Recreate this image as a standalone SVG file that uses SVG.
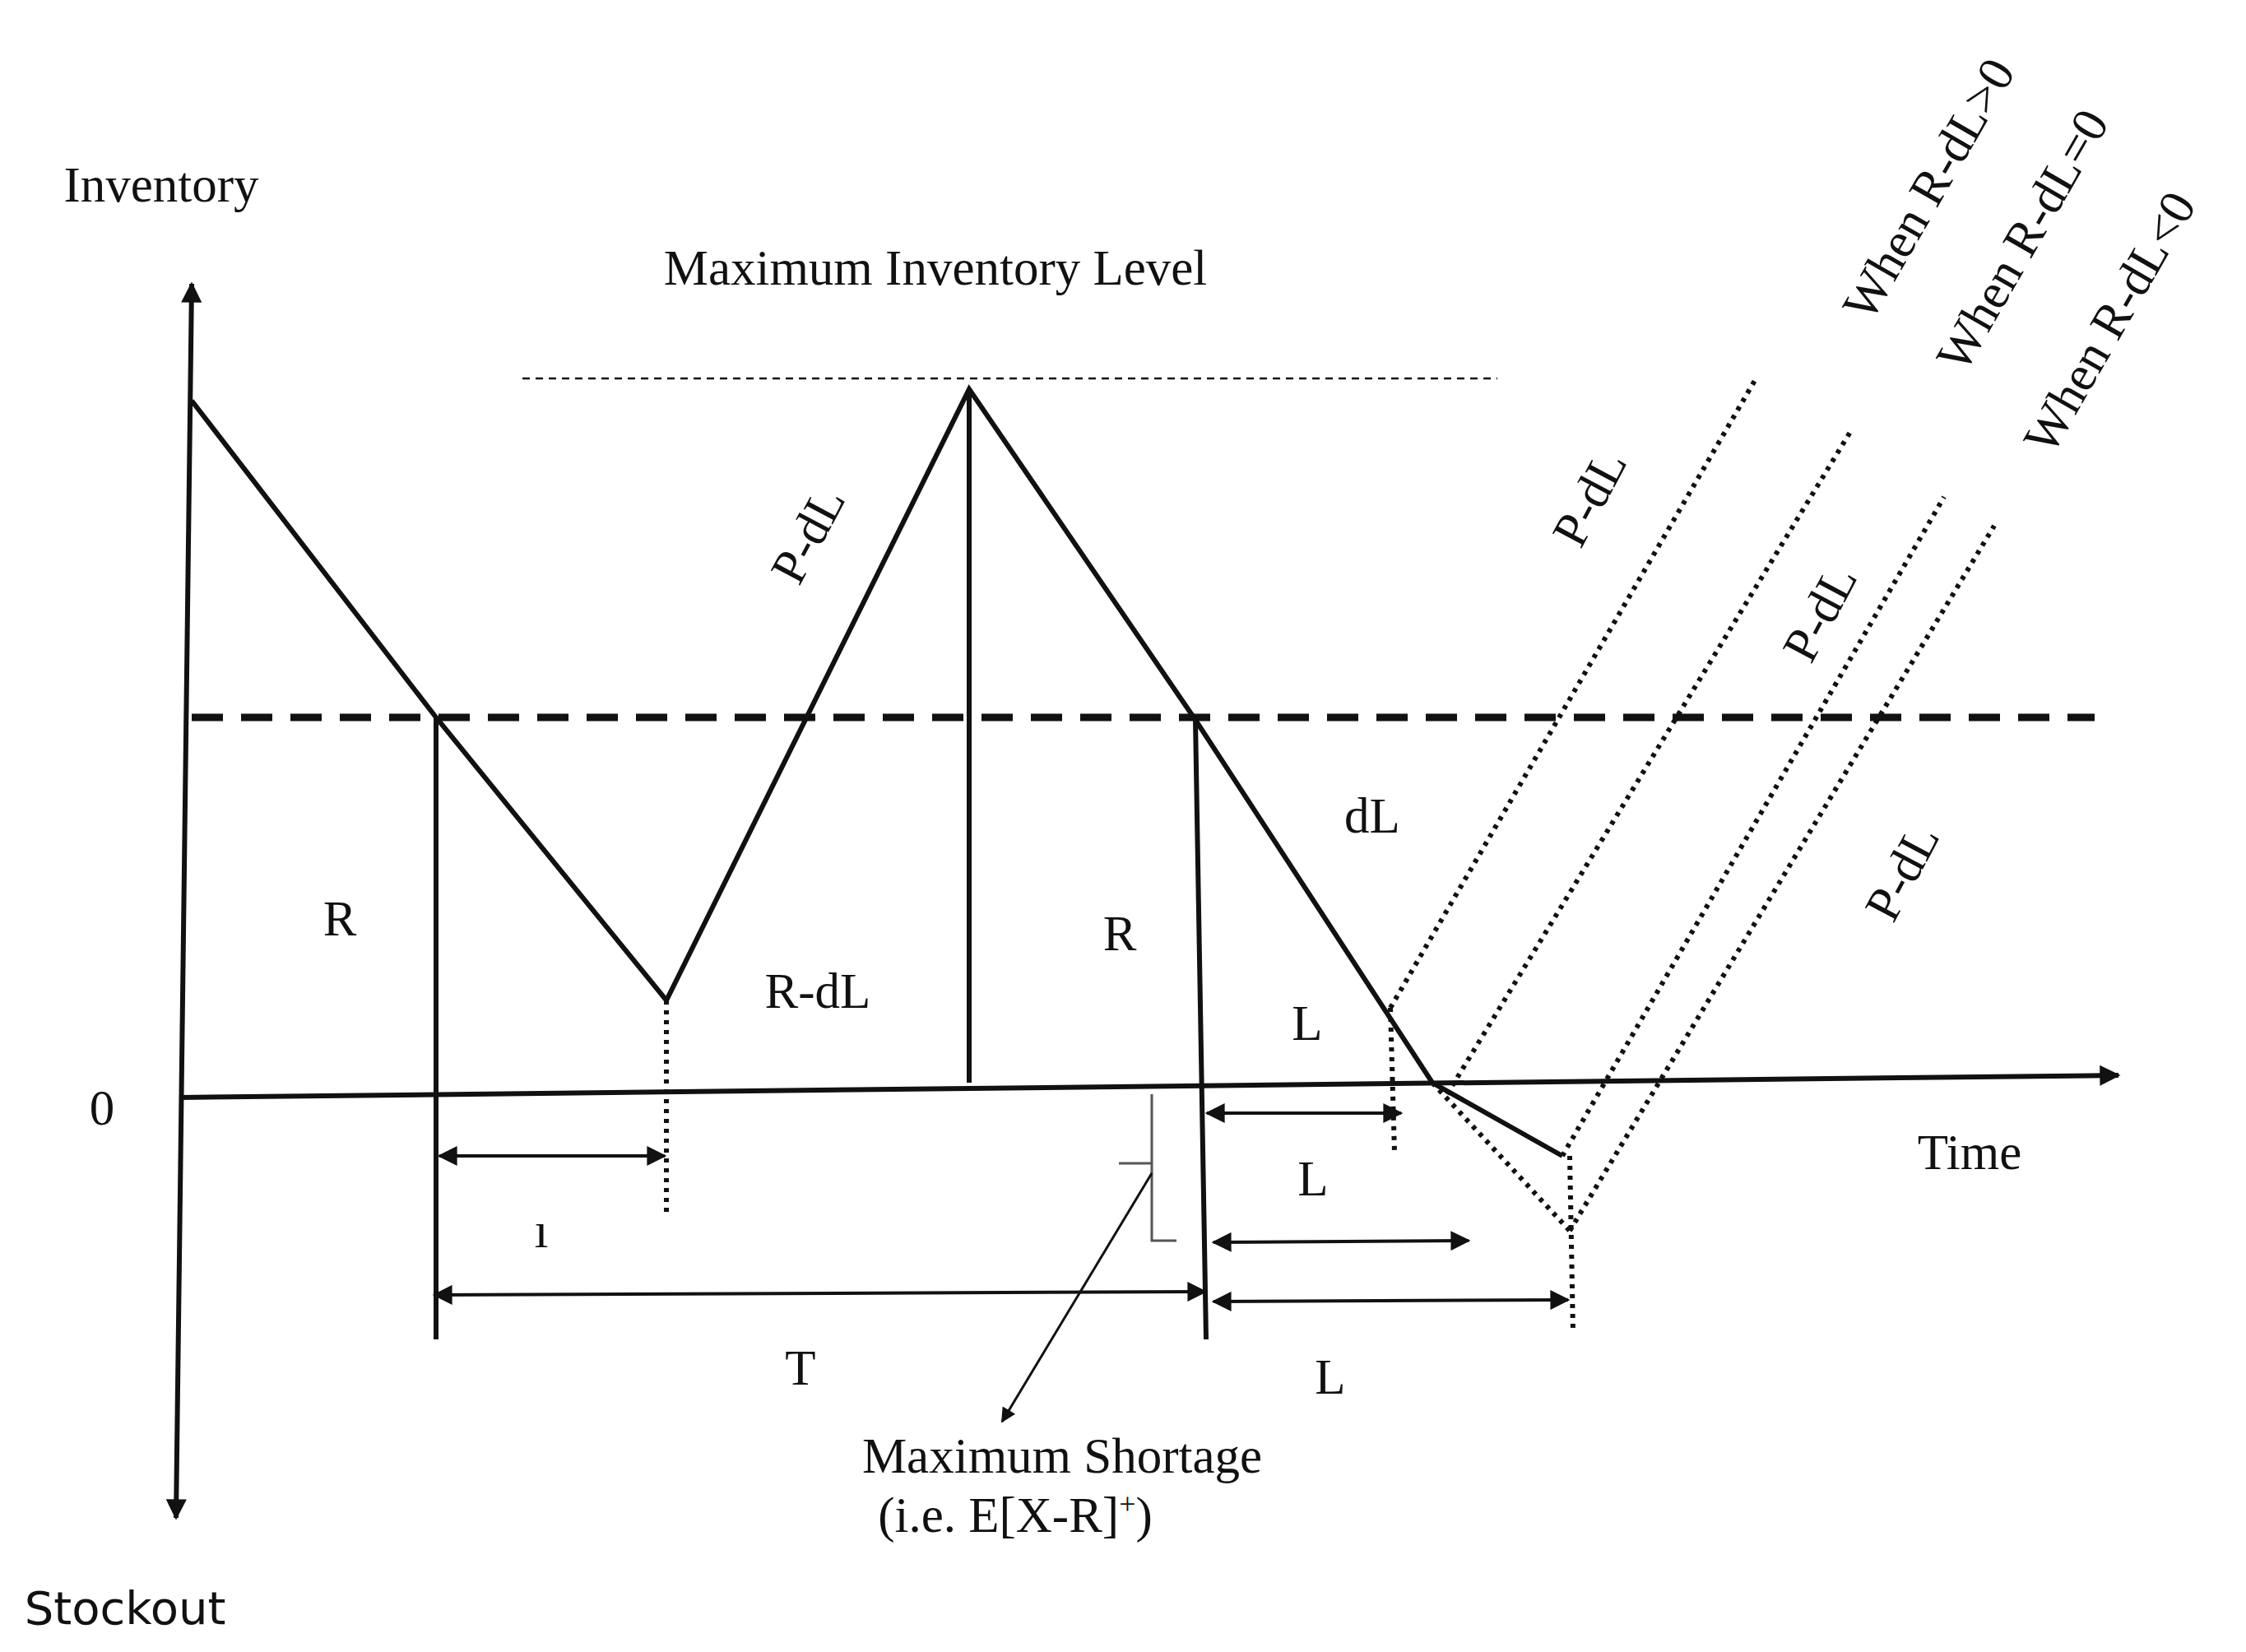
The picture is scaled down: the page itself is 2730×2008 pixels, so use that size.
<svg xmlns="http://www.w3.org/2000/svg" width="2730" height="2008" viewBox="0 0 2730 2008">
<style>
.t{font-family:"Liberation Serif",serif;font-size:61px;fill:#111;text-anchor:middle}
.s{stroke:#111;stroke-width:6;fill:none}
.th{stroke:#111;stroke-width:4;fill:none}
.d{stroke:#111;stroke-width:6;fill:none;stroke-dasharray:5 7}
</style>
<defs>
<marker id="a" viewBox="0 0 10 10" refX="9" refY="5" markerWidth="7" markerHeight="6" orient="auto-start-reverse"><path d="M0,0L10,5L0,10z" fill="#111"/></marker>
<marker id="b" viewBox="0 0 10 10" refX="9" refY="5" markerWidth="4.8" markerHeight="4.2" orient="auto-start-reverse"><path d="M0,0L10,5L0,10z" fill="#111"/></marker>
</defs>
<rect width="2730" height="2008" fill="#fff"/>
<g id="connectors">
<line class="s" x1="233" y1="345" x2="214" y2="1845" stroke-width="9" marker-start="url(#b)" marker-end="url(#b)"/>
<line class="s" x1="219" y1="1334" x2="2575" y2="1307" stroke-width="8" marker-end="url(#b)"/>
<line x1="233" y1="872" x2="2546" y2="872" stroke="#111" stroke-width="9" stroke-dasharray="38 22"/>
<line x1="635" y1="460" x2="1820" y2="460" stroke="#111" stroke-width="2.5" stroke-dasharray="9 7"/>
<polyline class="s" points="233,487 530,872 810,1216 1178,473 1453,875 1741,1316 1899,1405"/>
<line class="s" x1="530" y1="872" x2="530" y2="1628"/>
<line class="s" x1="1178" y1="473" x2="1178" y2="1316"/>
<line class="s" x1="1453" y1="875" x2="1466" y2="1628"/>
<line class="d" x1="810" y1="1216" x2="810" y2="1479"/>
<line class="d" x1="1690" y1="1225" x2="1695" y2="1400"/>
<line class="d" x1="1908" y1="1405" x2="1912" y2="1619"/>
<line class="d" x1="1690" y1="1225" x2="2135" y2="459"/>
<line class="d" x1="1759" y1="1330" x2="2249" y2="525"/>
<line class="d" x1="1741" y1="1316" x2="1908" y2="1496"/>
<line class="d" x1="1899" y1="1405" x2="2363" y2="604"/>
<line class="d" x1="1908" y1="1496" x2="2424" y2="639"/>
<line class="th" x1="534" y1="1405" x2="808" y2="1405" marker-start="url(#a)" marker-end="url(#a)"/>
<line class="th" x1="528" y1="1574" x2="1465" y2="1570" marker-start="url(#a)" marker-end="url(#a)"/>
<line class="th" x1="1467" y1="1353" x2="1703" y2="1353" marker-start="url(#a)" marker-end="url(#a)"/>
<line class="th" x1="1475" y1="1510" x2="1785" y2="1508" marker-start="url(#a)" marker-end="url(#a)"/>
<line class="th" x1="1475" y1="1582" x2="1906" y2="1580" marker-start="url(#a)" marker-end="url(#a)"/>
<polyline stroke="#555" stroke-width="3" fill="none" points="1400,1330 1400,1508 1430,1508"/>
<line stroke="#555" stroke-width="3" x1="1360" y1="1414" x2="1400" y2="1414"/>
<line stroke="#111" stroke-width="3" x1="1400" y1="1426" x2="1218" y2="1728" marker-end="url(#a)"/>
</g>
<g id="labels">
<text class="t" x="196" y="245">Inventory</text>
<text class="t" x="1137" y="346">Maximum Inventory Level</text>
<text class="t" x="413" y="1137">R</text>
<text class="t" x="994" y="1225">R-dL</text>
<text class="t" x="1361" y="1155">R</text>
<text class="t" x="1668" y="1012">dL</text>
<text class="t" x="1589" y="1264">L</text>
<text class="t" x="1596" y="1453">L</text>
<text class="t" x="1617" y="1694">L</text>
<text class="t" x="973" y="1683">T</text>
<text class="t" x="658" y="1516" font-size="44">ı</text>
<text class="t" x="124" y="1367">0</text>
<text class="t" x="2394" y="1421">Time</text>
<text x="152" y="1974" style="font-family:'DejaVu Sans',sans-serif;font-size:56px;fill:#111;text-anchor:middle">Stockout</text>
<text class="t" x="1291" y="1790">Maximum Shortage</text>
<text class="t" x="1234" y="1862">(i.e. E[X-R]<tspan font-size="36" dy="-22">+</tspan><tspan dy="22">)</tspan></text>
<text class="t" transform="translate(1000,660) rotate(-62)">P-dL</text>
<text class="t" transform="translate(1950,615) rotate(-62)">P-dL</text>
<text class="t" transform="translate(2230,755) rotate(-62)">P-dL</text>
<text class="t" transform="translate(2330,1070) rotate(-62)">P-dL</text>
<text class="t" transform="translate(2362,240) rotate(-60)">When R-dL&gt;0</text>
<text class="t" transform="translate(2476,302) rotate(-60)">When R-dL=0</text>
<text class="t" transform="translate(2582,402) rotate(-60)">When R-dL&lt;0</text>
</g>
</svg>
